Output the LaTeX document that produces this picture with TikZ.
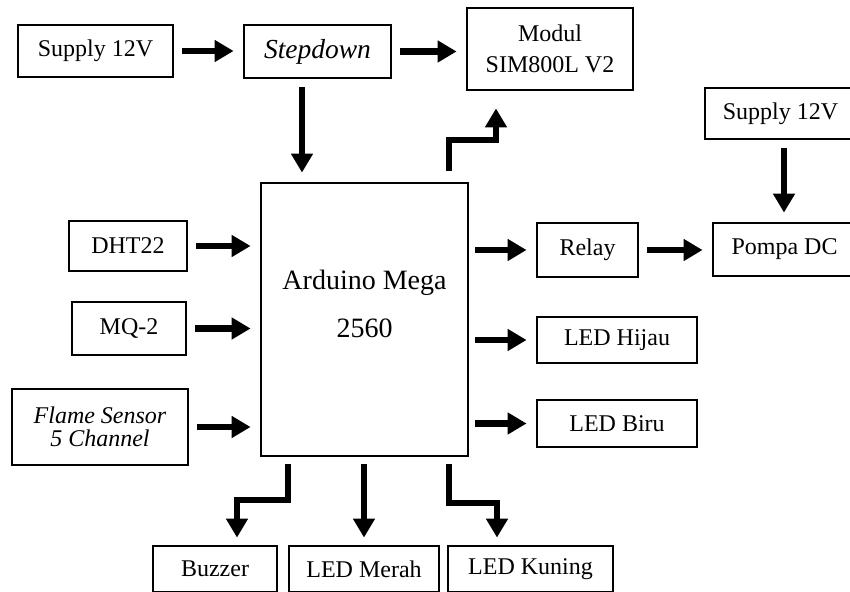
\documentclass[tikz,border=0pt]{standalone}
\usepackage{fontspec}
\setmainfont{Liberation Serif}
\usetikzlibrary{arrows.meta}
\begin{document}
\begin{tikzpicture}[x=1pt,y=-1pt,
  box/.style={draw, line width=2.8pt, inner sep=0pt, align=center,
              font=\fontsize{24}{26}\selectfont},
  arrw/.style={line width=6.5pt, -{Triangle[length=19pt,width=21pt]},
               shorten <=8pt, shorten >=9pt}]
\useasboundingbox (0,0) rectangle (850,591);
\clip (0,0) rectangle (850,591);

% top row
\node[box, minimum width=155pt, minimum height=52pt] (sup1) at (95.5,51) {Supply 12V};
\node[box, minimum width=147pt, minimum height=53pt,
      font=\fontsize{27.5}{28}\selectfont\itshape] (step) at (317.5,51.5) {Stepdown};
\node[box, minimum width=166pt, minimum height=82pt,
      font=\fontsize{24}{31}\selectfont] (sim) at (550,49) {Modul\\SIM800L V2};
\node[box, minimum width=151pt, minimum height=51pt] (sup2) at (780.5,113.5) {Supply 12V};

% controller
\node[draw, line width=2.8pt, minimum width=207pt, minimum height=273pt] (ard) at (364.5,319.5) {};
\node[font=\fontsize{28}{48}\selectfont, align=center] (ardtxt) at (364.5,304) {Arduino Mega\\2560};

% inputs
\node[box, minimum width=118pt, minimum height=50pt] (dht) at (128,246) {DHT22};
\node[box, minimum width=114pt, minimum height=53pt] (mq) at (129,328.5) {MQ-2};
\node[box, minimum width=176pt, minimum height=76pt,
      font=\fontsize{24}{23}\selectfont\itshape] (flame) at (100,427) {Flame Sensor\\5 Channel};

% outputs right
\node[box, minimum width=101pt, minimum height=54pt] (relay) at (587.5,250) {Relay};
\node[box, minimum width=143pt, minimum height=53pt] (pompa) at (784.5,249.5) {Pompa DC};
\node[box, minimum width=160pt, minimum height=46pt] (hijau) at (617,340) {LED Hijau};
\node[box, minimum width=160pt, minimum height=47pt] (biru) at (617,423.5) {LED Biru};

% outputs bottom
\node[box, minimum width=124pt, minimum height=46pt] (buzzer) at (215,569) {Buzzer};
\node[box, minimum width=150pt, minimum height=46pt] (merah) at (364,569) {LED Merah};
\node[box, minimum width=165pt, minimum height=46pt] (kuning) at (530.5,569) {LED Kuning};

% helper coordinates
\coordinate (c1) at (302,0);
\coordinate (c2) at (449,0);
\coordinate (c3) at (496,140);
\coordinate (c4) at (784,0);
\coordinate (c5) at (288,0);
\coordinate (c6) at (237,500);
\coordinate (c7) at (449,0);
\coordinate (c8) at (497,503);

% connectors
\draw[arrw] (sup1.east) -- (sup1.east -| step.west);
\draw[arrw] (step.east) -- (step.east -| sim.west);
\draw[arrw] (step.south -| c1) -- (ard.north -| c1);
\draw[arrw, shorten <=11pt, shorten >=17pt] (ard.north -| c2) |- (c3) -- (sim.south -| c3);
\draw[arrw] (sup2.south -| c4) -- (pompa.north -| c4);

\draw[arrw] (dht.east) -- (dht.east -| ard.west);
\draw[arrw] (mq.east) -- (mq.east -| ard.west);
\draw[arrw] (flame.east) -- (flame.east -| ard.west);

\draw[arrw, shorten <=6pt] (ard.east |- relay.west) -- (relay.west);
\draw[arrw] (relay.east) -- (relay.east -| pompa.west);
\draw[arrw, shorten <=6pt] (ard.east |- hijau.west) -- (hijau.west);
\draw[arrw, shorten <=6pt] (ard.east |- biru.west) -- (biru.west);

\draw[arrw, shorten <=7pt, shorten >=7pt] (ard.south -| c5) |- (c6) -- (buzzer.north -| c6);
\draw[arrw, shorten <=7pt, shorten >=7pt] (ard.south -| merah.north) -- (merah.north);
\draw[arrw, shorten <=7pt, shorten >=7pt] (ard.south -| c7) |- (c8) -- (kuning.north -| c8);
\end{tikzpicture}
\end{document}
